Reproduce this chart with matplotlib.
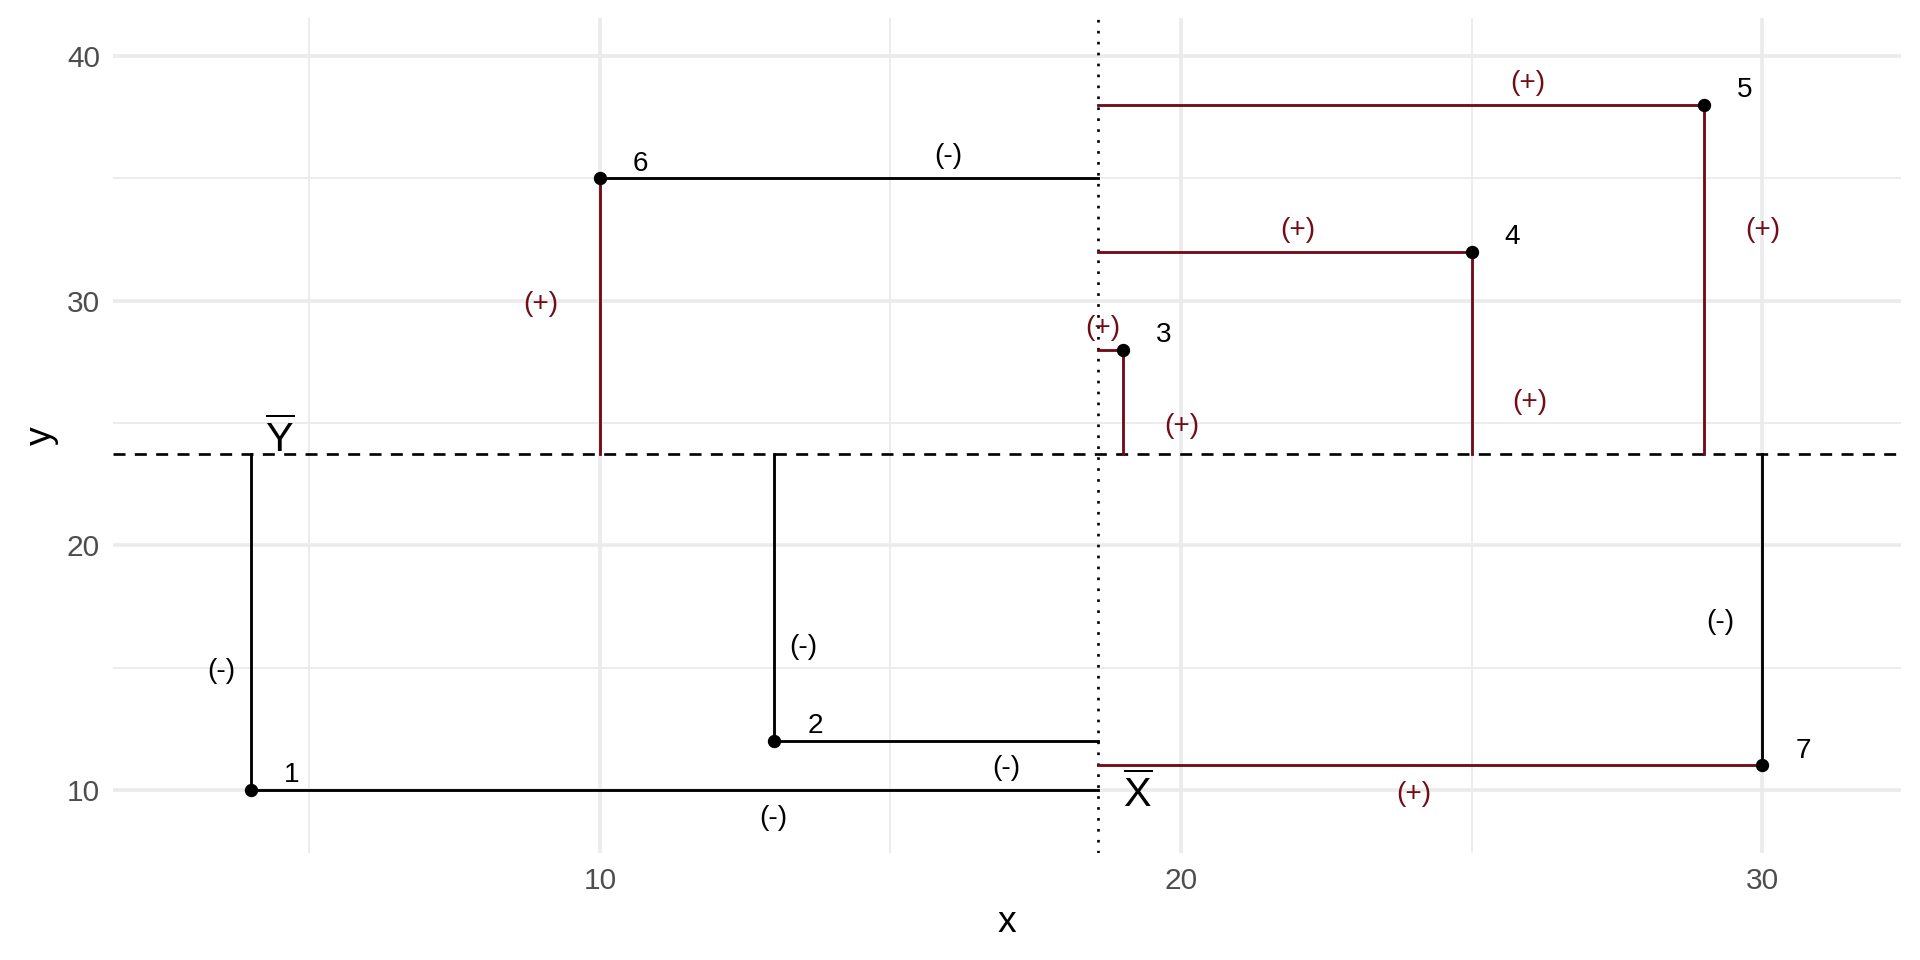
import numpy as np
import matplotlib.pyplot as plt
from matplotlib.ticker import MultipleLocator

plt.rcParams['font.family'] = ['Liberation Sans', 'DejaVu Sans']
plt.rcParams['mathtext.fontset'] = 'custom'
plt.rcParams['mathtext.rm'] = 'Liberation Sans'

# data points
xs = [4, 13, 19, 25, 29, 10, 30]
ys = [10, 12, 28, 32, 38, 35, 11]
ids = ['1', '2', '3', '4', '5', '6', '7']

# positions of the sign labels
hlab_x = [12.99, 17.0, 18.66, 22.0, 25.97, 16.0, 24.0]
hlab_y = [8.85, 10.9, 28.88, 32.88, 38.9, 35.9, 9.85]
vlab_x = [3.49, 13.5, 20.01, 26.0, 30.0, 8.99, 29.28]
vlab_y = [14.86, 15.86, 24.87, 25.87, 32.88, 29.88, 16.86]

pos_col = '#720c16'
neg_col = 'black'

xbar = np.mean(xs)
ybar = np.mean(ys)

fig = plt.figure(figsize=(10, 5), dpi=192)
ax = fig.add_axes([0.059, 0.111, 0.931, 0.870])

for i in range(len(xs)):
    dx = xs[i] - xbar
    dy = ys[i] - ybar
    cx = pos_col if dx > 0 else neg_col
    cy = pos_col if dy > 0 else neg_col
    ax.plot([xs[i], xbar], [ys[i], ys[i]], color=cx, lw=1.07, zorder=3)
    ax.plot([xs[i], xs[i]], [ys[i], ybar], color=cy, lw=1.07, zorder=3)
    ax.text(hlab_x[i], hlab_y[i], '(+)' if dx > 0 else '(-)', color=cx,
            fontsize=10.5, ha='center', va='center')
    ax.text(vlab_x[i], vlab_y[i], '(+)' if dy > 0 else '(-)', color=cy,
            fontsize=10.5, ha='center', va='center')
    ax.text(xs[i] + 0.7, ys[i] + 0.6, ids[i], fontsize=10.5,
            ha='center', va='center')

ax.plot(xs, ys, 'o', color='black', ms=4.0, zorder=4)

ax.axhline(ybar, color='black', lw=1.0, dashes=(4.5, 3.5), zorder=2)
ax.axvline(xbar, color='black', lw=1.0, dashes=(1, 3.1), zorder=2)

ax.text(4.5, ybar + 0.65, r'$\overline{\mathrm{Y}}$', fontsize=15.5,
        ha='center', va='center')
ax.text(xbar + 0.68, 9.85, r'$\overline{\mathrm{X}}$', fontsize=15.5,
        ha='center', va='center')

ax.set_xlim(1.63, 32.38)
ax.set_ylim(7.4, 41.55)
ax.xaxis.set_major_locator(MultipleLocator(10))
ax.xaxis.set_minor_locator(MultipleLocator(5))
ax.yaxis.set_major_locator(MultipleLocator(10))
ax.yaxis.set_minor_locator(MultipleLocator(5))
ax.grid(which='major', color='#ebebeb', lw=1.35, zorder=0)
ax.grid(which='minor', color='#ebebeb', lw=0.68, zorder=0)
ax.set_axisbelow(True)
for s in ax.spines.values():
    s.set_visible(False)
ax.tick_params(which='both', length=0, labelsize=11.2, labelcolor='#4d4d4d', pad=5)
ax.set_xlabel('x', fontsize=14, labelpad=4)
ax.set_ylabel('y', fontsize=14, labelpad=3)

fig.savefig('out.png', dpi=192)
